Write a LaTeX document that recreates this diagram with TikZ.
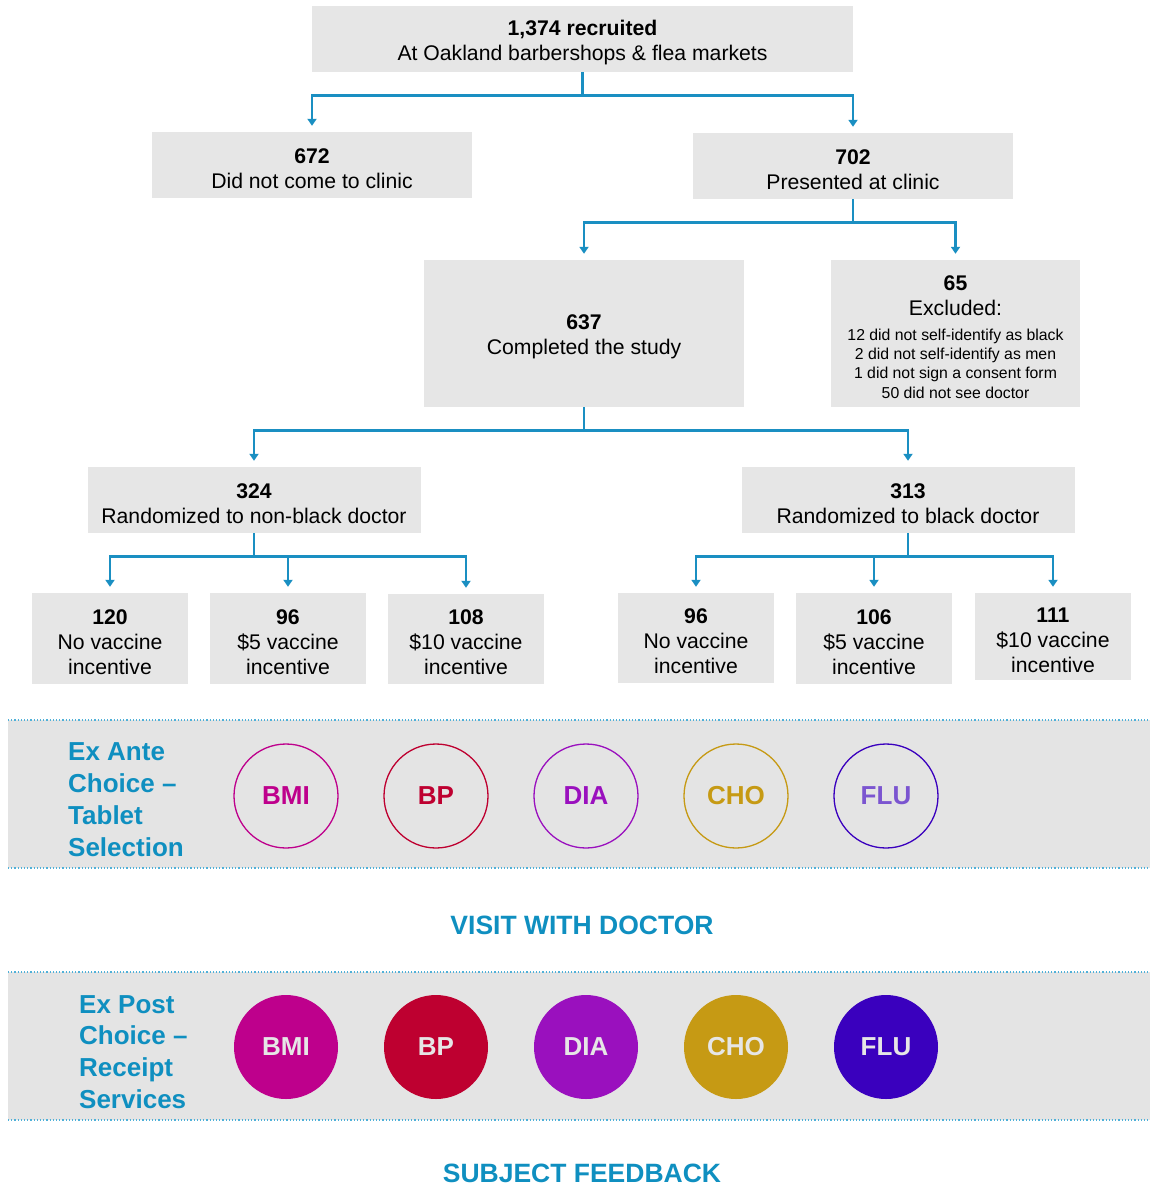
\documentclass[tikz,border=0pt]{standalone}
\usepackage{fontspec}
\setmainfont{Liberation Sans}
\usetikzlibrary{arrows.meta}
\definecolor{boxgray}{HTML}{E6E6E6}
\definecolor{bandgray}{HTML}{E4E4E4}
\definecolor{linkblue}{HTML}{1A8FC2}
\definecolor{titleblue}{HTML}{0F8FC0}
\definecolor{dotblue}{HTML}{4FB0D8}
\definecolor{cBMI}{HTML}{BE008C}
\definecolor{cBP}{HTML}{BE0030}
\definecolor{cDIA}{HTML}{9A10BE}
\definecolor{cCHO}{HTML}{C69A14}
\definecolor{cFLU}{HTML}{3A00BE}
\definecolor{tFLU}{HTML}{7B55D0}
\newcommand\tpstrut{\rule{0pt}{22pt}}
\newcommand\tpstrutbig{\rule{0pt}{27pt}}
\tikzset{
  box/.style={fill=boxgray, draw=none, inner sep=0pt, align=center,
    font=\fontsize{21.2}{25}\selectfont},
  conn/.style={draw=linkblue, line width=2.6pt, shorten >=6pt,
    -{Triangle[length=7pt,width=9pt]}},
  band/.style={fill=bandgray, draw=none},
  dotline/.style={draw=dotblue, line width=1.2pt, dotted},
  ring/.style={circle, minimum size=104pt, inner sep=0pt, line width=1.3pt,
    font=\fontsize{26}{30}\selectfont\bfseries, fill=none},
  disc/.style={circle, minimum size=104pt, inner sep=0pt,
    font=\fontsize{26}{30}\selectfont\bfseries, text=boxgray},
  sidelabel/.style={anchor=west, align=left, text=titleblue,
    font=\fontsize{26}{31.8}\selectfont\bfseries, inner sep=0pt},
  heading/.style={text=titleblue, font=\fontsize{26.5}{30}\selectfont\bfseries, inner sep=0pt}
}
\begin{document}
\begin{tikzpicture}[x=1pt,y=-1pt]
\useasboundingbox (0,0) rectangle (1151,1187);
% boxes
\node[box, minimum width=541pt, minimum height=66pt] (top) at (582.5,39) {\tpstrut\textbf{1,374 recruited}\\At Oakland barbershops \& flea markets};
\node[box, minimum width=320pt, minimum height=66pt] (n672) at (312,165) {\tpstrut\textbf{672}\\Did not come to clinic};
\node[box, minimum width=320pt, minimum height=66pt] (n702) at (853,166) {\tpstrut\textbf{702}\\Presented at clinic};
\node[box, minimum width=320pt, minimum height=147pt] (n637) at (584,333.5) {\tpstrut\textbf{637}\\Completed the study};
\node[box, minimum width=249pt, minimum height=147pt] (n65) at (955.5,333.5) {\tpstrutbig\textbf{65}\\Excluded:\\\fontsize{15.8}{19.3}\selectfont\begin{tabular}[t]{@{}c@{}}12 did not self-identify as black\\2 did not self-identify as men\\1 did not sign a consent form\\50 did not see doctor\end{tabular}};
\node[box, minimum width=333pt, minimum height=66pt] (n324) at (254,500) {\tpstrut\textbf{324}\\Randomized to non-black doctor};
\node[box, minimum width=333pt, minimum height=66pt] (n313) at (908,500) {\tpstrut\textbf{313}\\Randomized to black doctor};
\node[box, minimum width=156pt, minimum height=91pt] (a1) at (110,638.5) {\tpstrut\textbf{120}\\No vaccine\\incentive};
\node[box, minimum width=156pt, minimum height=91pt] (a2) at (288,638.5) {\tpstrut\textbf{96}\\\$5 vaccine\\incentive};
\node[box, minimum width=156pt, minimum height=90pt] (a3) at (466,639) {\tpstrut\textbf{108}\\\$10 vaccine\\incentive};
\node[box, minimum width=156pt, minimum height=90pt] (b1) at (696,638) {\tpstrut\textbf{96}\\No vaccine\\incentive};
\node[box, minimum width=156pt, minimum height=91pt] (b2) at (874,638.5) {\tpstrut\textbf{106}\\\$5 vaccine\\incentive};
\node[box, minimum width=156pt, minimum height=87pt] (b3) at (1053,636.5) {\tpstrut\textbf{111}\\\$10 vaccine\\incentive};
% connectors
\draw[conn] (top.south) -- ++(0,23) -| (n672.north);
\draw[conn] (top.south) -- ++(0,23) -| (n702.north);
\draw[conn] (n702.south) -- ++(0,23) -| (n637.north);
\draw[conn] (n702.south) -- ++(0,23) -| (n65.north);
\draw[conn] (n637.south) -- ++(0,23) -| (n324.north);
\draw[conn] (n637.south) -- ++(0,23) -| (n313.north);
\draw[conn] (n324.south) -- ++(0,23) -| (a1.north);
\draw[conn] (n324.south) -- ++(0,23) -| (a2.north);
\draw[conn] (n324.south) -- ++(0,23) -| (a3.north);
\draw[conn] (n313.south) -- ++(0,23) -| (b1.north);
\draw[conn] (n313.south) -- ++(0,23) -| (b2.north);
\draw[conn] (n313.south) -- ++(0,23) -| (b3.north);
% band 1
\fill[band] (8,720) rectangle (1150,868);
\draw[dotline] (8,720) -- (1150,720);
\draw[dotline] (8,868) -- (1150,868);
\node[sidelabel] (exante) at (68,799.5) {Ex Ante\\Choice –\\Tablet\\Selection};
\node[ring, draw=cBMI, text=cBMI] (r1) at (286,796) {BMI};
\node[ring, draw=cBP, text=cBP] (r2) at (436,796) {BP};
\node[ring, draw=cDIA, text=cDIA] (r3) at (586,796) {DIA};
\node[ring, draw=cCHO, text=cCHO] (r4) at (736,796) {CHO};
\node[ring, draw=cFLU, text=tFLU] (r5) at (886,796) {FLU};
\node[heading] (visit) at (582,925) {VISIT WITH DOCTOR};
% band 2
\fill[band] (8,972) rectangle (1150,1120);
\draw[dotline] (8,972) -- (1150,972);
\draw[dotline] (8,1120) -- (1150,1120);
\node[sidelabel] (expost) at (79,1052) {Ex Post\\Choice –\\Receipt\\Services};
\node[disc, fill=cBMI] (d1) at (286,1047) {BMI};
\node[disc, fill=cBP] (d2) at (436,1047) {BP};
\node[disc, fill=cDIA] (d3) at (586,1047) {DIA};
\node[disc, fill=cCHO] (d4) at (736,1047) {CHO};
\node[disc, fill=cFLU] (d5) at (886,1047) {FLU};
\node[heading] (feedback) at (582,1173) {SUBJECT FEEDBACK};
\end{tikzpicture}
\end{document}
